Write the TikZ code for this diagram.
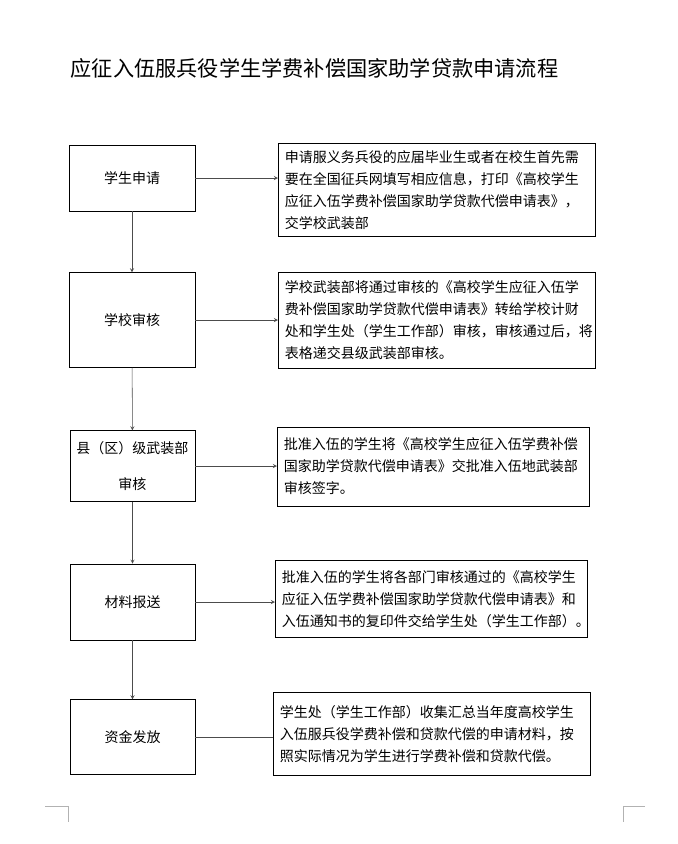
\documentclass[tikz,border=0pt]{standalone}
\usepackage{fontspec}
\setmainfont{Noto Sans CJK SC}
\usetikzlibrary{positioning}
\begin{document}
\begin{tikzpicture}[x=0.75pt,y=-0.75pt]
  \tikzstyle{stage}=[draw, inner sep=0pt, font=\fontsize{10.5}{15}\selectfont]
  \tikzstyle{note}=[draw, inner sep=5pt, anchor=north west, align=left, font=\fontsize{10.5}{16.5}\selectfont]
  \tikzstyle{flow}=[->, >=stealth, gray!60!black]
  \useasboundingbox (0,0) rectangle (678,844);

  \node[anchor=west, font=\fontsize{15.9}{18}\selectfont] (title) at (66,68) {应征入伍服兵役学生学费补偿国家助学贷款申请流程};

  % left column
  \node[stage, minimum width=94.5pt, minimum height=49.5pt] (s1) at (132,178) {学生申请};
  \node[stage, minimum width=94.5pt, minimum height=71pt]   (s2) at (132,320) {学校审核};
  \node[stage, minimum width=93.75pt, minimum height=53pt, align=center] (s3) at (132.5,466) {县（区）级武装部\\[12pt]审核};
  \node[stage, minimum width=93.75pt, minimum height=57pt]  (s4) at (132.5,602) {材料报送};
  \node[stage, minimum width=93.75pt, minimum height=56pt]  (s5) at (132.5,737) {资金发放};

  % right column
  \node[note, text width=228pt, minimum height=70pt] (n1) at (278,143)
    {申请服义务兵役的应届毕业生或者在校生首先需\\要在全国征兵网填写相应信息，打印《高校学生\\应征入伍学费补偿国家助学贷款代偿申请表》，\\交学校武装部};
  \node[note, text width=228pt, minimum height=72pt] (n2) at (278,272)
    {学校武装部将通过审核的《高校学生应征入伍学\\费补偿国家助学贷款代偿申请表》转给学校计财\\处和学生处（学生工作部）审核，审核通过后，将\\表格递交县级武装部审核。};
  \node[note, text width=224pt, minimum height=59pt] (n3) at (277,427)
    {批准入伍的学生将《高校学生应征入伍学费补偿\\国家助学贷款代偿申请表》交批准入伍地武装部\\审核签字。};
  \node[note, text width=224pt, minimum height=58pt] (n4) at (275,560)
    {批准入伍的学生将各部门审核通过的《高校学生\\应征入伍学费补偿国家助学贷款代偿申请表》和\\入伍通知书的复印件交给学生处（学生工作部）。};
  \node[note, text width=228pt, minimum height=62pt] (n5) at (273,692)
    {学生处（学生工作部）收集汇总当年度高校学生\\入伍服兵役学费补偿和贷款代偿的申请材料，按\\照实际情况为学生进行学费补偿和贷款代偿。};

  \draw[flow] (s1) -- (s2);
  \draw[flow] (s2) -- (s3);
  \draw[flow] (s3) -- (s4);
  \draw[flow] (s4) -- (s5);
  \draw[flow] (s1.east) -- (s1.east -| n1.west);
  \draw[flow] (s2.east) -- (s2.east -| n2.west);
  \draw[flow] (s3.east) -- (s3.east -| n3.west);
  \draw[flow] (s4.east) -- (s4.east -| n4.west);
  \draw[gray!60!black] (s5.east) -- (s5.east -| n5.west);

  % page corner marks
  \draw[gray!60] (45,806) -- (68,806) -- (68,822);
  \draw[gray!60] (645,806) -- (623,806) -- (623,822);
\end{tikzpicture}
\end{document}
